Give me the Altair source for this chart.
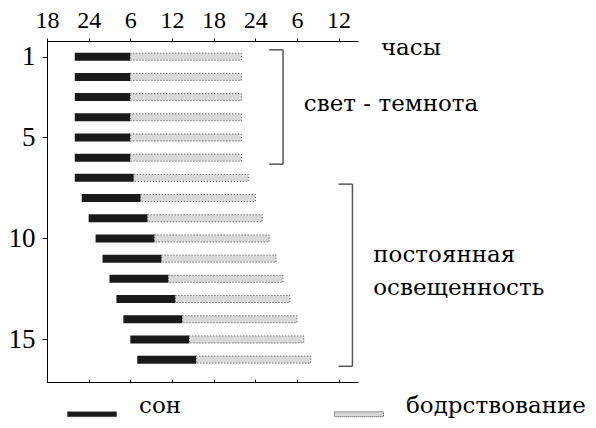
import altair as alt
import pandas as pd

# ---- data ----
days = list(range(1, 17))
sleep_start = [22, 22, 22, 22, 22, 22, 22, 23, 24, 25, 26, 27, 28, 29, 30, 31]
sleep_end = [30, 30, 30, 30, 30, 30, 30.5, 31.5, 32.5, 33.5, 34.5, 35.5, 36.5, 37.5, 38.5, 39.5]
wake_end = [46, 46, 46, 46, 46, 46, 47, 48, 49, 50, 51, 52, 53, 54, 55, 56]
states = ["сон", "бодрствование"]

x_ticks = [18, 24, 30, 36, 42, 48, 54, 60]
y_ticks = [1, 5, 10, 15]

# brackets (hours / day units)
br_x_left = [50, 60]
br_x_right = [52, 62]
br_y_top = [0.66, 7.31]
br_y_bot = [6.32, 16.33]

ann_text = ["часы", "свет - темнота", "постоянная", "освещенность"]
ann_x = [66.1, 55.0, 65.0, 65.0]
ann_y = [0.9, 3.7, 11.19, 12.82]

NUM_FONT = "Liberation Serif"
CYR_FONT = "DejaVu Serif"

bars = pd.DataFrame({
    "day": days * 2,
    "start": sleep_start + sleep_end,
    "end": sleep_end + wake_end,
    "state": [states[0]] * 16 + [states[1]] * 16,
})

segs = []
for xl, xr, yt, yb in zip(br_x_left, br_x_right, br_y_top, br_y_bot):
    segs.append({"x": xr, "x2": xr, "y": yt, "y2": yb})
    segs.append({"x": xl, "x2": xr, "y": yt, "y2": yt})
    segs.append({"x": xl, "x2": xr, "y": yb, "y2": yb})
segs = pd.DataFrame(segs)

ann = pd.DataFrame({"text": ann_text, "x": ann_x, "y": ann_y})

xscale = alt.Scale(domain=[18, 62.8], nice=False, zero=False)
yscale = alt.Scale(domain=[0.47, 16.86], nice=False, zero=False, reverse=True)

y_axis = alt.Axis(values=y_ticks, orient="left", tickSize=5, labelFontSize=27,
                  labelFont=NUM_FONT, labelColor="black", labelPadding=7, labelFlush=False,
                  domainColor="black", tickColor="black", grid=False, title=None)

fill_scale = alt.Scale(domain=states, range=["#1a1a1a", "#d9d9d9"])
legend = alt.Legend(orient="none", legendX=20, legendY=347, direction="horizontal",
                    title=None, symbolType="M-1,-0.06H1V0.14H-1Z", symbolSize=2401,
                    symbolStrokeColor="#444", symbolStrokeWidth=1, symbolDash=[1, 1],
                    symbolOpacity=1, labelFont=CYR_FONT, labelFontSize=23, labelColor="black",
                    labelBaseline="alphabetic", labelOffset=22, columnPadding=150,
                    labelLimit=400, padding=0)

top_axis = alt.Axis(orient="top", values=x_ticks,
                    labelExpr="datum.value % 24 == 0 ? '24' : '' + (datum.value % 24)",
                    tickSize=3, labelFontSize=24, labelFont=NUM_FONT, labelColor="black",
                    labelBaseline="alphabetic", labelPadding=11,
                    labelFlush=False, domainColor="black", tickColor="black",
                    grid=False, title=None)

base = alt.Chart(bars)

sleep_layer = base.transform_filter(alt.datum.state == states[0]).mark_bar(
    orient="horizontal", size=8
).encode(
    x=alt.X("start:Q", scale=xscale, axis=top_axis),
    x2="end:Q",
    y=alt.Y("day:Q", scale=yscale, axis=y_axis),
    fill=alt.Fill("state:N", scale=fill_scale, legend=legend),
)

wake_layer = base.transform_filter(alt.datum.state == states[1]).mark_bar(
    orient="horizontal", size=7, stroke="#444", strokeWidth=1, strokeDash=[1, 2]
).encode(
    x=alt.X("start:Q", scale=xscale, axis=None),
    x2="end:Q",
    y=alt.Y("day:Q", scale=yscale, axis=y_axis),
    fill=alt.Fill("state:N", scale=fill_scale, legend=legend),
)

bottom_line = base.mark_point(opacity=0).encode(
    x=alt.X("start:Q", scale=xscale,
            axis=alt.Axis(orient="bottom", values=x_ticks, labels=False, ticks=False,
                          domain=True, domainColor="black", grid=False, title=None)),
    y=alt.Y("day:Q", scale=yscale, axis=y_axis),
)

bottom_ticks = base.mark_point(opacity=0).encode(
    x=alt.X("end:Q", scale=xscale,
            axis=alt.Axis(orient="bottom", offset=-3, values=x_ticks, labels=False,
                          ticks=True, tickSize=3, tickColor="black", domain=False,
                          grid=False, title=None)),
    y=alt.Y("day:Q", scale=yscale, axis=y_axis),
)

brackets = alt.Chart(segs).mark_rule(color="#555", strokeWidth=1.5).encode(
    x=alt.X("x:Q", scale=xscale, axis=None),
    x2="x2:Q",
    y=alt.Y("y:Q", scale=yscale, axis=y_axis),
    y2="y2:Q",
)

texts = alt.Chart(ann).mark_text(
    font=CYR_FONT, fontSize=23, align="left", baseline="alphabetic", color="black"
).encode(
    x=alt.X("x:Q", scale=xscale, axis=None),
    y=alt.Y("y:Q", scale=yscale, axis=y_axis),
    text="text:N",
)

chart = alt.layer(
    sleep_layer, wake_layer, bottom_line, bottom_ticks, brackets, texts
).resolve_axis(x="independent").properties(
    width=311, height=341,
    autosize=alt.AutoSizeParams(type="none"),
    padding={"left": 39, "top": 33, "right": 230, "bottom": 38},
    background="white",
).configure_view(stroke=None)

chart.save("out.html", embed_options={"renderer": "svg", "actions": False})
